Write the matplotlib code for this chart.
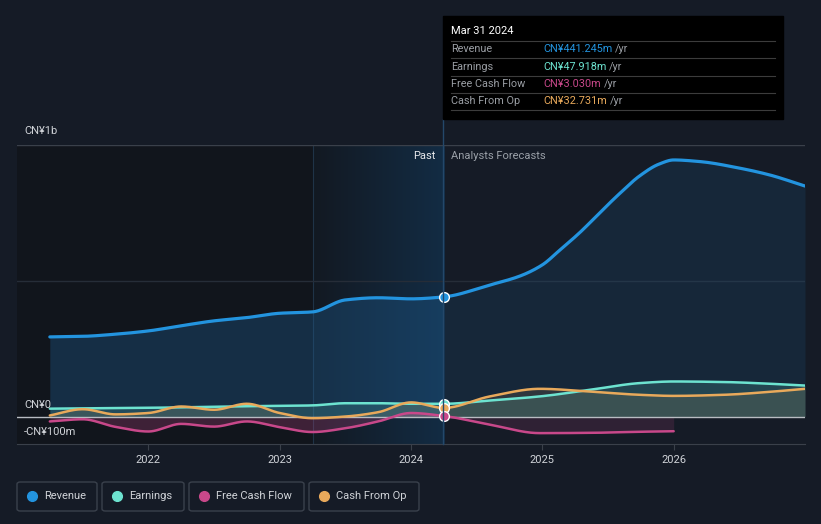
import numpy as np
import matplotlib
matplotlib.use("Agg")
from matplotlib import pyplot as plt
from matplotlib.patches import Rectangle, FancyBboxPatch
from matplotlib.lines import Line2D

plt.rcParams['font.family'] = ['Roboto', 'DejaVu Sans']

# quarterly history (fraction of year) and analyst forecast points, CN¥ m
past_t = [2021.25, 2021.5, 2021.75, 2022.0, 2022.25, 2022.5, 2022.75,
          2023.0, 2023.25, 2023.5, 2023.75, 2024.0, 2024.25]
revenue_past = [294, 296, 304, 316, 335, 353, 365, 381, 386, 430, 438, 434, 441.245]
earnings_past = [30, 31, 32, 33, 35, 37, 39, 40, 42, 50, 50, 48, 47.918]
fcf_past = [-17, -9, -37, -54, -26, -36, -17, -38, -56, -42, -17, 14, 3.030]
cfo_past = [5, 28, 9, 14, 38, 26, 48, 14, -5, 1, 17, 53, 32.731]

rev_fc_t = [2024.25, 2024.6, 2024.83, 2025.0, 2025.13, 2025.29, 2025.44, 2025.59,
            2025.74, 2025.89, 2026.0, 2026.2, 2026.5, 2026.73, 2027.0]
revenue_fc = [441.245, 485, 518, 559, 612, 680, 752, 822, 886, 930, 945, 939, 915, 890, 849]

fc_t = [2024.25, 2024.6, 2024.98, 2025.36, 2025.74, 2026.0, 2026.38, 2026.76, 2027.0]
earnings_fc = [47.918, 60, 75, 99, 124, 130, 128, 121, 115]
cfo_fc = [32.731, 75, 103, 93, 81, 77, 81, 93, 103]
fcf_fc_t = [2024.25, 2024.6, 2024.98, 2025.36, 2025.74, 2026.0]
fcf_fc = [3.030, -29, -60, -59, -55, -53]

years = [2022, 2023, 2024, 2025, 2026]

BG = '#151b26'
TXT = '#d0d3d8'
C_REV = '#2394df'
C_EARN = '#6de3d0'
C_FCF = '#c8488a'
C_CFO = '#e8a95b'


def pchip(x, y, n=300):
    # monotone cubic, only to draw the curves smoothly
    x = np.asarray(x, float)
    y = np.asarray(y, float)
    h = np.diff(x)
    d = np.diff(y) / h
    m = np.zeros_like(y)
    m[0] = d[0]
    m[-1] = d[-1]
    for k in range(1, len(x) - 1):
        if d[k - 1] * d[k] > 0:
            w1 = 2 * h[k] + h[k - 1]
            w2 = h[k] + 2 * h[k - 1]
            m[k] = (w1 + w2) / (w1 / d[k - 1] + w2 / d[k])
    xs = np.linspace(x[0], x[-1], n)
    i = np.clip(np.searchsorted(x, xs) - 1, 0, len(x) - 2)
    t = (xs - x[i]) / h[i]
    h00 = 2 * t**3 - 3 * t**2 + 1
    h10 = t**3 - 2 * t**2 + t
    h01 = -2 * t**3 + 3 * t**2
    h11 = t**3 - t**2
    ys = h00 * y[i] + h10 * h[i] * m[i] + h01 * y[i + 1] + h11 * h[i] * m[i + 1]
    return xs, ys


fig = plt.figure(figsize=(8.21, 5.24), dpi=100, facecolor=BG)
ax = fig.add_axes([17 / 821, 80 / 524, 788 / 821, 299 / 524])
ax.set_facecolor(BG)

# past shading
ax.axvspan(2021.0, 2023.25, color='#11151c', lw=0, zorder=0)
grad = np.linspace(0, 1, 256).reshape(1, -1)
cmap = matplotlib.colors.LinearSegmentedColormap.from_list('g', ['#121922', '#132c44'])
ax.imshow(grad, extent=[2023.25, 2024.25, -100, 1000], aspect='auto', cmap=cmap, zorder=0)
ax.axvline(2023.25, color='#1f3347', lw=0.8, zorder=1)

# grid
ax.axhline(1000, color='#3a404a', lw=1, zorder=1)
ax.axhline(500, color='#262d38', lw=1, zorder=1)

# series
series = [
    (past_t, revenue_past, rev_fc_t, revenue_fc, C_REV, 2.3),
    (past_t, earnings_past, fc_t, earnings_fc, C_EARN, 1.8),
    (past_t, fcf_past, fcf_fc_t, fcf_fc, C_FCF, 1.8),
    (past_t, cfo_past, fc_t, cfo_fc, C_CFO, 1.8),
]
fill_alpha = {C_REV: (0.35, 0.18), C_EARN: (0.16, 0.16), C_FCF: (0.25, 0.15), C_CFO: (0.12, 0.12)}
for pt, pv, ft, fv, col, lw in series:
    xs, ys = pchip(list(pt) + list(ft[1:]), list(pv) + list(fv[1:]), 800)
    a_past, a_fc = fill_alpha[col]
    past = xs <= 2024.25
    fill_col = '#1f5f94' if col == C_REV else col
    ax.fill_between(xs[past], ys[past], 0, color=fill_col, alpha=a_past, lw=0, zorder=2)
    ax.fill_between(xs[~past], ys[~past], 0, color=fill_col, alpha=a_fc, lw=0, zorder=2)
    ax.plot(xs, ys, color=col, lw=lw, solid_capstyle='round', zorder=4)

ax.axhline(0, color='#b8bcc2', lw=1, zorder=3)

for val, col in [(revenue_past[-1], C_REV), (earnings_past[-1], C_EARN),
                 (cfo_past[-1], C_CFO), (fcf_past[-1], C_FCF)]:
    ax.plot([2024.25], [val], 'o', color=col, ms=7, mec='white', mew=1, zorder=6)

ax.set_xlim(2021.0, 2027.0)
ax.set_ylim(-100, 1000)
for s in ['top', 'left', 'right']:
    ax.spines[s].set_visible(False)
ax.spines['bottom'].set_color('#3a404a')
ax.set_yticks([])
ax.set_xticks(years)
ax.set_xticklabels([str(y) for y in years])
ax.tick_params(axis='x', colors='#3a404a', labelcolor=TXT, labelsize=8, length=4, pad=4)

# vertical marker line up to the tooltip
fig.add_artist(Line2D([443 / 821, 443 / 821], [1 - 119 / 524, 1 - 444 / 524],
                      color='#24486a', lw=1, transform=fig.transFigure, zorder=5))

fig.text(24 / 821, 1 - 131 / 524, 'CN¥1b', color=TXT, fontsize=8, va='center')
fig.text(24 / 821, 1 - 405 / 524, 'CN¥0', color=TXT, fontsize=8, va='center')
fig.text(24 / 821, 1 - 432 / 524, '-CN¥100m', color=TXT, fontsize=8, va='center')
fig.text(435 / 821, 1 - 156 / 524, 'Past', color='#e6e8eb', fontsize=8, ha='right', va='center')
fig.text(451 / 821, 1 - 156 / 524, 'Analysts Forecasts', color='#9aa0a8', fontsize=8, va='center')

# tooltip
fig.add_artist(Rectangle((443 / 821, 1 - 119 / 524), 340 / 821, 103 / 524,
                         color='black', transform=fig.transFigure, zorder=10))
fig.text(451 / 821, 1 - 31 / 524, 'Mar 31 2024', color='white', fontsize=8, va='center', zorder=11)
for yy in [41, 58, 76, 93, 110]:
    fig.add_artist(Line2D([443 / 821 + 8 / 821, 775 / 821], [1 - yy / 524, 1 - yy / 524],
                          color='#3c3c3c', lw=0.8, transform=fig.transFigure, zorder=11))
rows = [('Revenue', 'CN¥441.245m', C_REV), ('Earnings', 'CN¥47.918m', C_EARN),
        ('Free Cash Flow', 'CN¥3.030m', C_FCF), ('Cash From Op', 'CN¥32.731m', C_CFO)]
for k, (lab, val, col) in enumerate(rows):
    yy = 1 - (49 + 17.5 * k) / 524
    fig.text(451 / 821, yy, lab, color='#9a9ea4', fontsize=7.8, va='center', zorder=11)
    t = fig.text(543 / 821, yy, val, color=col, fontsize=7.8, va='center', zorder=11)
    fig.canvas.draw()
    bb = t.get_window_extent()
    fig.text((bb.x1 + 3) / 821, yy, '/yr', color='#9a9ea4', fontsize=7.8, va='center', zorder=11)

# legend
legend = [('Revenue', C_REV, 17, 97), ('Earnings', C_EARN, 102, 184),
          ('Free Cash Flow', C_FCF, 189, 304), ('Cash From Op', C_CFO, 309, 419)]
for lab, col, x0, x1 in legend:
    fig.add_artist(FancyBboxPatch((x0 / 821, 1 - 511 / 524), (x1 - x0) / 821, 29 / 524,
                                  boxstyle='round,pad=0,rounding_size=0.004',
                                  fc='none', ec='#3a414c', lw=1, transform=fig.transFigure))
    fig.add_artist(Line2D([(x0 + 15) / 821], [1 - 496 / 524], marker='o', ms=7, color=col,
                          lw=0, transform=fig.transFigure))
    fig.text((x0 + 27) / 821, 1 - 496 / 524, lab, color=TXT, fontsize=8, va='center')

fig.savefig('out.png', dpi=100, facecolor=BG)
